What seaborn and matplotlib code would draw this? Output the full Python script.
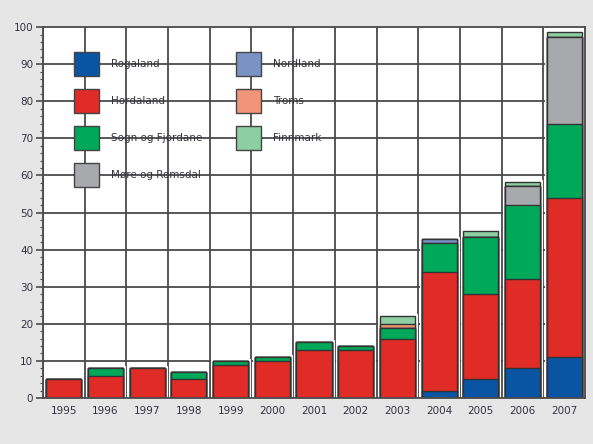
import numpy as np
import pandas as pd
import matplotlib
matplotlib.use("Agg")
import matplotlib.pyplot as plt
from matplotlib.patches import Patch
from matplotlib.ticker import MultipleLocator
import seaborn as sns

# data
years = [1995, 1996, 1997, 1998, 1999, 2000, 2001, 2002, 2003, 2004, 2005, 2006, 2007]
rogaland = [0, 0, 0, 0, 0, 0, 0, 0, 0, 2, 5, 8, 11]
hordaland = [5, 6, 8, 5, 9, 10, 13, 13, 16, 32, 23, 24, 43]
sogn_og_fjordane = [0, 2, 0, 2, 1, 1, 2, 1, 3, 7.8, 15.3, 20, 20]
more_og_romsdal = [0, 0, 0, 0, 0, 0, 0, 0, 0, 0, 0, 5.1, 23.3]
nordland = [0, 0, 0, 0, 0, 0, 0, 0, 0, 1.1, 0, 0, 0]
troms = [0, 0, 0, 0, 0, 0, 0, 0, 1, 0, 0, 0, 0]
finnmark = [0, 0, 0, 0, 0, 0, 0, 0, 2, 0, 1.8, 1.1, 1.3]

fylker = ["Rogaland", "Hordaland", "Sogn og Fjordane", "Møre og Romsdal",
          "Nordland", "Troms", "Finnmark"]
farger = ["#0a55a3", "#e02b27", "#00a859", "#a8a9ad",
          "#7a93c7", "#f0957a", "#8dcfa2"]

df = pd.DataFrame({"År": [str(a) for a in years],
                   "Rogaland": rogaland, "Hordaland": hordaland,
                   "Sogn og Fjordane": sogn_og_fjordane,
                   "Møre og Romsdal": more_og_romsdal,
                   "Nordland": nordland, "Troms": troms, "Finnmark": finnmark})

kum = df[fylker].cumsum(axis=1)

sns.set_style("white")
plt.rcParams['font.family'] = ['DejaVu Sans']
tekstfarge = "#33333f"
gridfarge = "#4a4a4a"

fig = plt.figure(figsize=(5.93, 4.44), dpi=100)
fig.patch.set_facecolor("#e6e6e6")
ax = fig.add_axes([0.0725, 0.1036, 0.914, 0.8354])
ax.set_facecolor("white")

bredde = 0.84

# white halo behind each stack
sns.barplot(x=df["År"], y=kum["Finnmark"], color="white", saturation=1,
            width=bredde, edgecolor="white", linewidth=3.5, errorbar=None, ax=ax)

# stacked bars: draw cumulative totals from top layer down
for navn, farge in reversed(list(zip(fylker, farger))):
    sns.barplot(x=df["År"], y=kum[navn], color=farge, saturation=1,
                width=bredde, edgecolor="#333333", linewidth=1.0,
                errorbar=None, ax=ax)

ax.set_xlim(-0.5, len(years) - 0.5)
ax.set_ylim(0, 100)
ax.set_xlabel("")
ax.set_ylabel("")

# grid at category boundaries and every 10
ax.set_axisbelow(True)
for x in np.arange(-0.5, len(years), 1.0):
    ax.axvline(x, color=gridfarge, lw=1.3, zorder=0)
for y in range(10, 100, 10):
    ax.axhline(y, color=gridfarge, lw=1.3, zorder=0)

ax.yaxis.set_major_locator(MultipleLocator(10))
ax.yaxis.set_minor_locator(MultipleLocator(2))
ax.set_xticks(np.arange(-0.5, len(years), 1.0), minor=True)
ax.tick_params(axis="x", which="major", length=0, pad=6, labelsize=7.5, labelcolor=tekstfarge)
ax.tick_params(axis="x", which="minor", length=6, width=1.2, color=gridfarge, direction="out")
ax.tick_params(axis="y", which="major", length=5, width=1.2, color=gridfarge,
               direction="out", labelsize=7.5, labelcolor=tekstfarge, pad=2, left=True)
ax.tick_params(axis="y", which="minor", length=2.5, width=0.8, color=gridfarge,
               direction="out", left=True)

for s in ax.spines.values():
    s.set_color(gridfarge)
    s.set_linewidth(1.3)

handles = [Patch(facecolor=f, edgecolor="#444444", linewidth=1.0, label=n)
           for n, f in zip(fylker, farger)]
ax.legend(handles=handles, ncol=2, frameon=False, fontsize=7.5,
          loc="upper left", bbox_to_anchor=(0.057, 0.933),
          handlelength=2.4, handleheight=3.17, handletextpad=1.15,
          labelspacing=1.25, columnspacing=3.3, labelcolor=tekstfarge,
          borderaxespad=0, borderpad=0)

fig.savefig("out.png", dpi=100, facecolor=fig.get_facecolor())
